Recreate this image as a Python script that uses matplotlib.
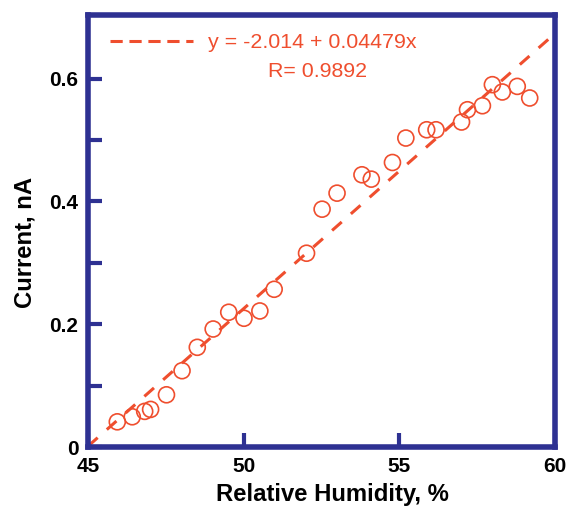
import matplotlib
matplotlib.use("Agg")
import matplotlib.pyplot as plt
from matplotlib.lines import Line2D
import numpy as np

humidity = [45.94, 46.42, 46.82, 47.01, 47.52, 48.02, 48.51, 49.02, 49.52, 50.01,
            50.52, 50.98, 52.02, 52.52, 53.00, 53.80, 54.10, 54.78, 55.21, 55.88,
            56.18, 57.00, 57.19, 57.67, 57.99, 58.31, 58.79, 59.19]
current = [0.0412, 0.0494, 0.0582, 0.0614, 0.0852, 0.1244, 0.1625, 0.1923, 0.2196, 0.2098,
           0.2217, 0.2570, 0.3157, 0.3874, 0.4135, 0.4434, 0.4363, 0.4634, 0.5032, 0.5167,
           0.5167, 0.5293, 0.5493, 0.5558, 0.5901, 0.5782, 0.5873, 0.5684]
fit_intercept = -2.014
fit_slope = 0.04479
fit_r = 0.9892
x_ticks = [45, 50, 55, 60]
y_ticks = [0, 0.1, 0.2, 0.3, 0.4, 0.5, 0.6]
y_tick_labels = ["0", "", "0.2", "", "0.4", "", "0.6"]

BLUE = "#2E3192"
ORANGE = "#EF4E2E"

plt.rcParams['font.family'] = ['Liberation Sans', 'DejaVu Sans']

fig = plt.figure(figsize=(5.68, 5.11), dpi=100)
ax = fig.add_axes([0.155, 0.125, 0.822, 0.845])

ax.scatter(humidity, current, s=11.5**2, facecolors='none', edgecolors=ORANGE,
           linewidths=1.2, zorder=3)

xl = np.array([45.0, 60.0])
ax.plot(xl, fit_intercept + fit_slope * xl, color=ORANGE, lw=2.2,
        dashes=(4.2, 4.0), zorder=2)

ax.set_xlim(45, 60)
ax.set_ylim(0, 0.703)
ax.set_xticks(x_ticks)
ax.set_xticklabels([str(v) for v in x_ticks])
ax.set_yticks(y_ticks)
ax.set_yticklabels(y_tick_labels)

for s in ax.spines.values():
    s.set_color(BLUE)
    s.set_linewidth(4)
ax.tick_params(axis='both', direction='in', length=10, width=3, color=BLUE,
               labelsize=15, pad=7, top=False, right=False)
for lab in ax.get_xticklabels() + ax.get_yticklabels():
    lab.set_fontweight('bold')

ax.set_xlabel("Relative Humidity, %", fontsize=17.2, fontweight='bold', labelpad=5)
ax.set_ylabel("Current, nA", fontsize=17.2, fontweight='bold', labelpad=9)
ax.xaxis.label.set_x(0.5236)
ax.yaxis.label.set_y(0.473)

handle = Line2D([], [], color=ORANGE, lw=2.2, dashes=(4.0, 2.2))
leg = ax.legend([handle], [f"y = {fit_intercept} + {fit_slope}x"],
                loc='upper left', bbox_to_anchor=(0.047, 0.958), frameon=False,
                borderpad=0, borderaxespad=0, handlelength=3.9, handletextpad=0.7,
                fontsize=15.4)
for t in leg.get_texts():
    t.set_color(ORANGE)
ax.text(0.4925, 0.869, f"R= {fit_r}", transform=ax.transAxes, color=ORANGE,
        fontsize=15.4, ha='center', va='center')

fig.savefig("out.png", dpi=100)
